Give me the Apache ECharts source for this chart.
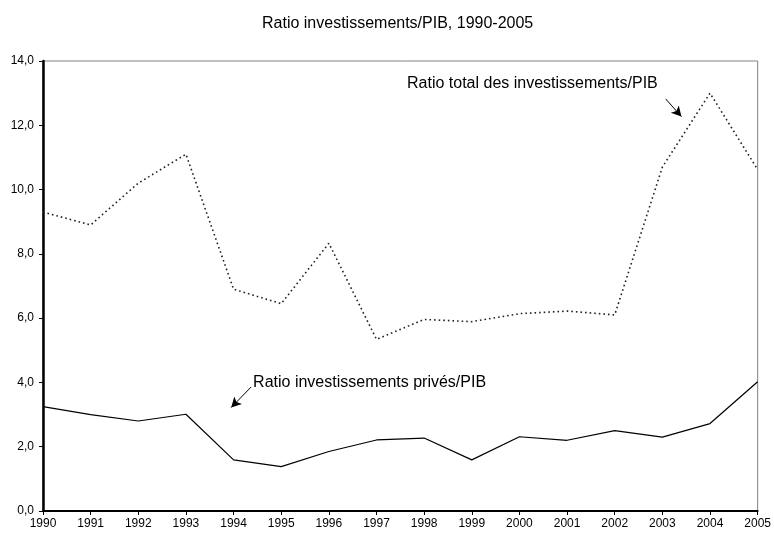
<!DOCTYPE html>
<html>
<head>
<meta charset="utf-8">
<script src="https://cdn.jsdelivr.net/npm/echarts@6/dist/echarts.min.js"></script>
<style>
  html, body { margin: 0; padding: 0; background: #fff; }
  #chart { width: 774px; height: 535px; }
</style>
</head>
<body>
<div id="chart"></div>
<script>
// Years on the horizontal axis
const years = [1990, 1991, 1992, 1993, 1994, 1995, 1996, 1997, 1998, 1999, 2000, 2001, 2002, 2003, 2004, 2005];
// Total investment / GDP ratio (%)
const totalRatio = [9.3, 8.9, 10.2, 11.1, 6.9, 6.45, 8.33, 5.34, 5.96, 5.89, 6.14, 6.22, 6.1, 10.7, 13.0, 10.62];
// Private investment / GDP ratio (%)
const privateRatio = [3.25, 3.0, 2.8, 3.01, 1.59, 1.38, 1.85, 2.21, 2.27, 1.59, 2.31, 2.2, 2.5, 2.3, 2.72, 4.02];

const titleText = 'Ratio investissements/PIB, 1990-2005';
const totalLabel = 'Ratio total des investissements/PIB';
const privateLabel = 'Ratio investissements privés/PIB';

const FONT = '"Liberation Sans", Arial, sans-serif';

const pairs = vals => years.map((y, i) => [y, vals[i]]);

// Free-standing annotation text anchored at a data coordinate (left edge, middle)
const textLabel = (coord, text) => ({
  coord: coord,
  symbol: 'circle',
  symbolSize: 0,
  label: {
    show: true,
    position: 'right',
    distance: 0,
    formatter: text,
    fontFamily: FONT,
    fontSize: 16,
    color: '#000'
  }
});

// Short pointer arrow between two data coordinates
const arrow = (from, to) => [
  { coord: from, symbol: 'none' },
  { coord: to, symbol: 'arrow', symbolSize: [8, 10] }
];

const chart = echarts.init(document.getElementById('chart'), null, { renderer: 'canvas' });

chart.setOption({
  animation: false,
  backgroundColor: '#fff',
  title: {
    text: titleText,
    left: 257,
    top: 11,
    textStyle: { fontFamily: FONT, fontSize: 16, fontWeight: 'normal', color: '#000' }
  },
  grid: {
    left: 43, right: 14, top: 61, bottom: 24,
    show: true,
    borderColor: '#808080',
    borderWidth: 1
  },
  xAxis: {
    type: 'value',
    min: 1990, max: 2005, interval: 1,
    axisLine: { show: true, lineStyle: { color: '#000', width: 2 } },
    axisTick: { show: true, length: 4, lineStyle: { color: '#000', width: 1 } },
    axisLabel: {
      fontFamily: FONT, fontSize: 12, color: '#000', margin: 7,
      formatter: v => String(v)
    },
    splitLine: { show: false }
  },
  yAxis: {
    type: 'value',
    min: 0, max: 14, interval: 2,
    axisLine: { show: true, lineStyle: { color: '#000', width: 2.5 } },
    axisTick: { show: true, length: 4, lineStyle: { color: '#000', width: 1 } },
    axisLabel: {
      fontFamily: FONT, fontSize: 12, color: '#000', margin: 9,
      formatter: v => v.toFixed(1).replace('.', ',')
    },
    splitLine: { show: false }
  },
  series: [
    {
      name: totalLabel,
      type: 'line',
      data: pairs(totalRatio),
      symbol: 'none',
      lineStyle: { color: '#222', width: 1.6, type: [1.6, 3] },
      markLine: {
        silent: true,
        label: { show: false },
        lineStyle: { color: '#000', width: 1, type: 'solid' },
        data: [arrow([2003.07, 12.82], [2003.4, 12.27])]
      },
      markPoint: {
        silent: true,
        data: [textLabel([1997.64, 13.3], totalLabel)]
      }
    },
    {
      name: privateLabel,
      type: 'line',
      data: pairs(privateRatio),
      symbol: 'none',
      lineStyle: { color: '#000', width: 1.2 },
      markLine: {
        silent: true,
        label: { show: false },
        lineStyle: { color: '#000', width: 1, type: 'solid' },
        data: [arrow([1994.37, 3.86], [1993.95, 3.22])]
      },
      markPoint: {
        silent: true,
        data: [textLabel([1994.41, 4.0], privateLabel)]
      }
    }
  ]
});
</script>
</body>
</html>
